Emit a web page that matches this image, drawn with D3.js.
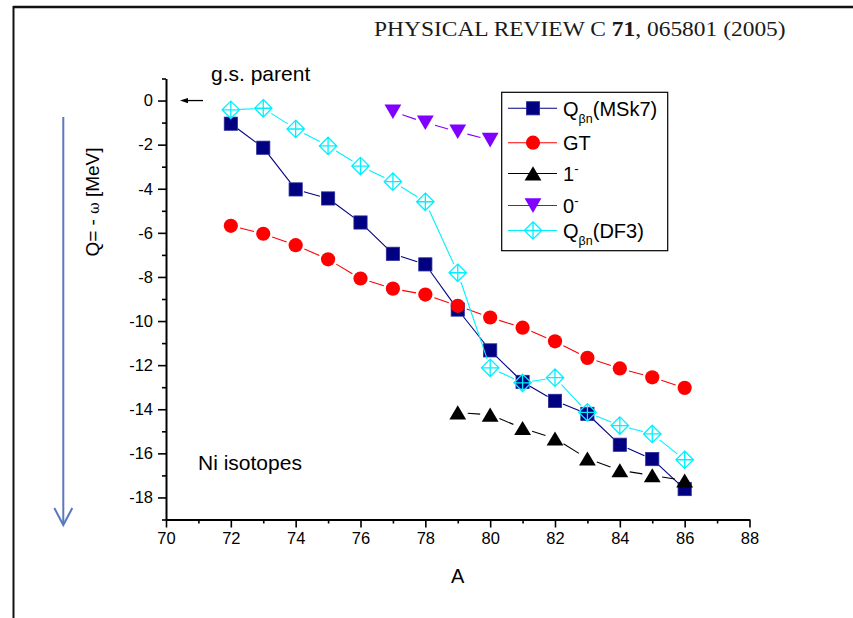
<!DOCTYPE html>
<html>
<head>
<meta charset="utf-8">
<script src="https://cdn.jsdelivr.net/npm/d3@7"></script>
<style>
  html, body { margin: 0; padding: 0; background: #ffffff; }
  svg { display: block; }
  text { font-family: "Liberation Sans", Arial, sans-serif; fill: #000; }
</style>
</head>
<body>
<svg id="chart" width="853" height="618"></svg>
<script>
// Mass number A of the Ni isotopes
const massNumbers = [72, 73, 74, 75, 76, 77, 78, 79, 80, 81, 82, 83, 84, 85, 86];
// Q_βn from MSk7 masses [MeV]
const qMSk7 = [-1.05, -2.14, -4.03, -4.44, -5.53, -6.95, -7.43, -9.48, -11.33, -12.76, -13.62, -14.21, -15.61, -16.26, -17.62];
// Gamow-Teller resonance energies [MeV]
const qGT = [-5.68, -6.04, -6.56, -7.20, -8.07, -8.53, -8.80, -9.31, -9.84, -10.30, -10.92, -11.67, -12.15, -12.55, -13.03];
// 1- first-forbidden states
const massNumbers1m = [79, 80, 81, 82, 83, 84, 85, 86];
const q1m = [-14.15, -14.25, -14.86, -15.33, -16.24, -16.77, -17.00, -17.24];
// 0- first-forbidden states
const massNumbers0m = [77, 78, 79, 80];
const q0m = [-0.50, -1.00, -1.41, -1.79];
// Q_βn from DF3 masses [MeV]
const qDF3 = [-0.42, -0.35, -1.29, -2.06, -2.97, -3.68, -4.59, -7.81, -12.12, -12.80, -12.57, -14.14, -14.74, -15.12, -16.29];

// Axis ticks (labels on even values, minor ticks on odd ones)
const xTickValues = [70, 71, 72, 73, 74, 75, 76, 77, 78, 79, 80, 81, 82, 83, 84, 85, 86, 87, 88];
const yTickValues = [1, 0, -1, -2, -3, -4, -5, -6, -7, -8, -9, -10, -11, -12, -13, -14, -15, -16, -17, -18, -19];

const svg = d3.select("#chart");

const x = d3.scaleLinear().domain([70, 88]).range([166, 749.5]);
const y = d3.scaleLinear().domain([-19, 1]).range([519.5, 78.5]);

// Page frame and running head
svg.append("line").attr("x1", 13).attr("x2", 853).attr("y1", 7).attr("y2", 7)
  .attr("stroke", "#111").attr("stroke-width", 2.5);
svg.append("line").attr("x1", 13.5).attr("x2", 13.5).attr("y1", 6).attr("y2", 618)
  .attr("stroke", "#111").attr("stroke-width", 2);

const head = svg.append("text")
  .attr("x", 0).attr("y", 0)
  .style("font-family", "'Liberation Serif', 'Times New Roman', serif")
  .style("font-size", "21px")
  .style("fill", "#1a1a1a");
head.append("tspan").text("PHYSICAL REVIEW C ");
head.append("tspan").style("font-weight", "bold").text("71");
head.append("tspan").text(", 065801 (2005)");
{
  const w = head.node().getComputedTextLength();
  const target = 412;
  head.attr("transform", `translate(374,36) scale(${target / w},1)`);
}

// Axes
const yAxis = d3.axisLeft(y)
  .tickValues(yTickValues)
  .tickSize(8)
  .tickSizeOuter(0)
  .tickPadding(5)
  .tickFormat(d => (d % 2 === 0 ? d3.format("d")(d).replace("−", "-") : ""));
const gy = svg.append("g").attr("transform", `translate(${x(70)},0)`).call(yAxis);

const xAxis = d3.axisBottom(x)
  .tickValues(xTickValues)
  .tickSize(8)
  .tickSizeOuter(0)
  .tickPadding(5)
  .tickFormat(d => (d % 2 === 0 ? d : ""));
const gx = svg.append("g").attr("transform", `translate(0,${y(-19)})`).call(xAxis);

[gx, gy].forEach(g => {
  g.select(".domain").attr("stroke", "#000").attr("stroke-width", 2);
  g.selectAll(".tick line").attr("stroke", "#000").attr("stroke-width", 1.6);
  g.selectAll(".tick text")
    .style("font-family", "'Liberation Sans', Arial, sans-serif")
    .style("font-size", "16.5px")
    .attr("fill", "#000");
});
gy.selectAll(".tick").filter(d => d % 2 !== 0).select("line").attr("x2", -4);
gx.selectAll(".tick").filter(d => d % 2 !== 0).select("line").attr("y2", 4);

// Axis titles
svg.append("text")
  .attr("x", (x(70) + x(88)) / 2).attr("y", 583)
  .attr("text-anchor", "middle")
  .style("font-size", "20px")
  .text("A");

const yTitle = svg.append("text")
  .attr("transform", "translate(99,202) rotate(-90)")
  .attr("text-anchor", "middle")
  .style("font-size", "19px");
yTitle.append("tspan").text("Q= - ");
yTitle.append("tspan").style("font-size", "14px").style("font-family", "'DejaVu Serif', serif").text("ω");
yTitle.append("tspan").text(" [MeV]");

// Direction arrow beside the energy axis
svg.append("line").attr("x1", 63.3).attr("x2", 63.3).attr("y1", 117).attr("y2", 524)
  .attr("stroke", "#5a78be").attr("stroke-width", 2);
svg.append("path").attr("d", "M54.3,508 L63.3,525 L72.3,508")
  .attr("fill", "none").attr("stroke", "#5a78be").attr("stroke-width", 2);

// Annotations
svg.append("text").attr("x", 211).attr("y", 81).style("font-size", "21px").text("g.s. parent");
svg.append("line").attr("x1", 203).attr("x2", 186).attr("y1", y(0)).attr("y2", y(0))
  .attr("stroke", "#000").attr("stroke-width", 1.3);
svg.append("path")
  .attr("d", `M180,${y(0)} L188,${y(0) - 2.6} L188,${y(0) + 2.6} Z`)
  .attr("fill", "#000");
svg.append("text").attr("x", 198).attr("y", 470).style("font-size", "21px").text("Ni isotopes");

// Marker shapes
function drawMarker(g, type, cx, cy) {
  switch (type) {
    case "square":
      g.append("rect").attr("x", cx - 6.6).attr("y", cy - 6.6).attr("width", 13.2).attr("height", 13.2)
        .attr("fill", "#000080").attr("stroke", "#2b2b9e").attr("stroke-width", 0.8);
      break;
    case "circle":
      g.append("circle").attr("cx", cx).attr("cy", cy).attr("r", 7.1).attr("fill", "#ff0000");
      break;
    case "up":
      g.append("path").attr("d", `M${cx},${cy - 7.2} L${cx + 8.4},${cy + 6.9} L${cx - 8.4},${cy + 6.9} Z`)
        .attr("fill", "#000");
      break;
    case "down":
      g.append("path").attr("d", `M${cx - 8.4},${cy - 7.2} L${cx + 8.4},${cy - 7.2} L${cx},${cy + 7.4} Z`)
        .attr("fill", "#8000ff");
      break;
    case "diamond": {
      const h = 8.7;
      g.append("path")
        .attr("d", `M${cx},${cy - h} L${cx + h},${cy} L${cx},${cy + h} L${cx - h},${cy} Z M${cx},${cy - h} L${cx},${cy + h} M${cx - h},${cy} L${cx + h},${cy}`)
        .attr("fill", "none").attr("stroke", "#00f0ff").attr("stroke-width", 1.3);
      break;
    }
  }
}

const series = [
  { type: "square",  color: "#000080", gap: 8.5, xs: massNumbers,   ys: qMSk7 },
  { type: "circle",  color: "#ff0000", gap: 9.5, xs: massNumbers,   ys: qGT },
  { type: "up",      color: "#000000", gap: 10,  xs: massNumbers1m, ys: q1m },
  { type: "down",    color: "#8000ff", gap: 10,  xs: massNumbers0m, ys: q0m },
  { type: "diamond", color: "#00f0ff", gap: 9.5, xs: massNumbers,   ys: qDF3 }
];

const plot = svg.append("g");
series.forEach(s => {
  const g = plot.append("g");
  const pts = s.xs.map((a, i) => [x(a), y(s.ys[i])]);
  // connecting segments, trimmed short of each marker
  for (let i = 0; i < pts.length - 1; i++) {
    const [x1, y1] = pts[i], [x2, y2] = pts[i + 1];
    const len = Math.hypot(x2 - x1, y2 - y1);
    if (len <= 2 * s.gap) continue;
    const ux = (x2 - x1) / len, uy = (y2 - y1) / len;
    g.append("line")
      .attr("x1", x1 + ux * s.gap).attr("y1", y1 + uy * s.gap)
      .attr("x2", x2 - ux * s.gap).attr("y2", y2 - uy * s.gap)
      .attr("stroke", s.color).attr("stroke-width", 1.1);
  }
  pts.forEach(([px, py]) => drawMarker(g, s.type, px, py));
});

// Legend
const legend = svg.append("g");
legend.append("rect").attr("x", 501.7).attr("y", 92.3).attr("width", 166).attr("height", 158.4)
  .attr("fill", "#fff").attr("stroke", "#000").attr("stroke-width", 1.2);

const legendRows = [
  { s: series[0], cy: 108.3, label: ["Q", "βn", "(MSk7)"] },
  { s: series[1], cy: 142.7, label: ["GT"] },
  { s: series[2], cy: 173.5, label: ["1", "-"] },
  { s: series[3], cy: 205.5, label: ["0", "-"] },
  { s: series[4], cy: 230.5, label: ["Q", "βn", "(DF3)"] }
];
legendRows.forEach(r => {
  const g = legend.append("g");
  g.append("line").attr("x1", 508).attr("x2", 557).attr("y1", r.cy).attr("y2", r.cy)
    .attr("stroke", r.s.color).attr("stroke-width", 1.1);
  drawMarker(g, r.s.type, 533, r.cy);
  const t = g.append("text").attr("x", 563).attr("y", r.cy + 7.3).style("font-size", "20px");
  t.append("tspan").text(r.label[0]);
  if (r.label.length === 3) {
    t.append("tspan").attr("dy", 7).style("font-size", "12.5px").text(r.label[1]);
    t.append("tspan").attr("dy", -7).text(r.label[2]);
  } else if (r.label.length === 2) {
    t.append("tspan").attr("dy", -8).style("font-size", "13px").text(r.label[1]);
  }
});
</script>
</body>
</html>
